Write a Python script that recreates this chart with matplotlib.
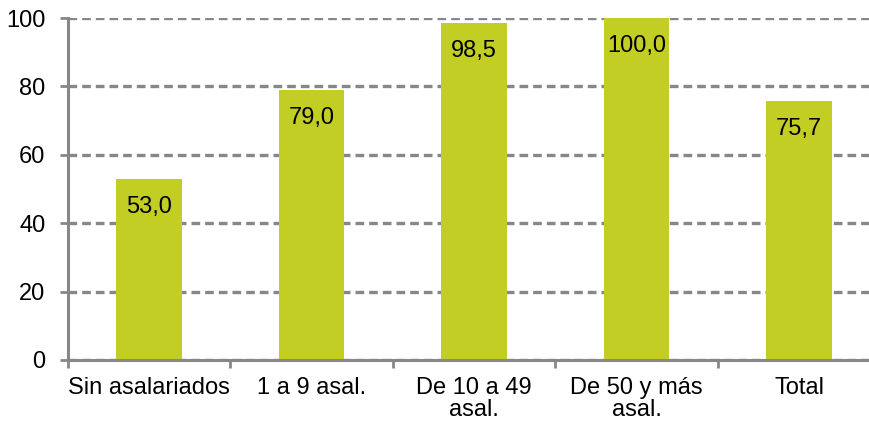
import matplotlib.pyplot as plt

plt.rcParams['font.family'] = ['Liberation Sans', 'DejaVu Sans']

categories = ["Sin asalariados", "1 a 9 asal.", "De 10 a 49\nasal.", "De 50 y más\nasal.", "Total"]
values = [53.0, 79.0, 98.5, 100.0, 75.7]
labels = ["53,0", "79,0", "98,5", "100,0", "75,7"]

bar_color = "#C3CE24"
axis_gray = "#878787"
fs = 17

fig = plt.figure(figsize=(8.69, 4.32), dpi=100)
ax = fig.add_axes([0.078, 0.167, 0.935, 0.791])

x = range(len(categories))
bars = ax.bar(x, values, width=0.405, color=bar_color, zorder=2)

# value labels inside bars, near the top
for b, lab in zip(bars, labels):
    ax.annotate(lab, (b.get_x() + b.get_width() / 2, b.get_height()),
                xytext=(0, -20), textcoords="offset points",
                ha="center", va="center", fontsize=fs, color="black", zorder=3)

ax.set_xlim(-0.5, len(categories) - 0.5)
ax.set_ylim(0, 100)
ax.set_yticks([0, 20, 40, 60, 80, 100])
ax.set_yticklabels(["0", "20", "40", "60", "80", "100"], fontsize=fs)

# category labels centred, tick marks on the boundaries
ax.set_xticks(list(x))
ax.set_xticklabels(categories, fontsize=fs, linespacing=1.0)
ax.tick_params(axis="x", length=0, pad=12)
ax.set_xticks([i - 0.5 for i in range(len(categories))], minor=True)
ax.tick_params(axis="x", which="minor", length=6, width=2, color=axis_gray)
ax.tick_params(axis="y", length=6, width=2, color=axis_gray, pad=10)

ax.yaxis.grid(True, color=axis_gray, linestyle=(0, (2.6, 1.5)), linewidth=2.4, zorder=1)
ax.set_axisbelow(True)

for side in ["top", "right"]:
    ax.spines[side].set_visible(False)
for side in ["left", "bottom"]:
    ax.spines[side].set_color(axis_gray)
    ax.spines[side].set_linewidth(2.2)

fig.savefig("out.png", dpi=100)
